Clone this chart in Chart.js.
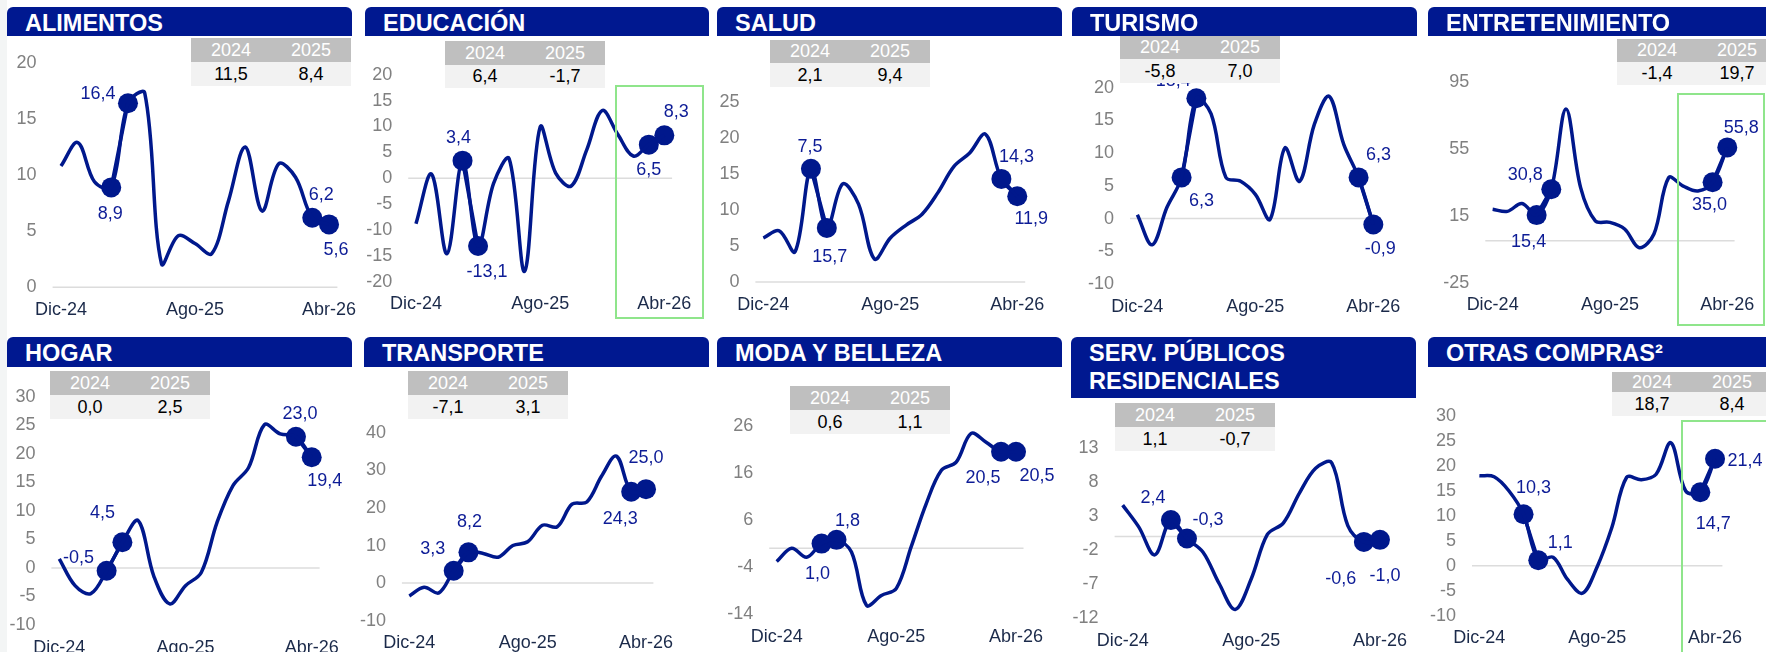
<!DOCTYPE html>
<html lang="es">
<head>
<meta charset="utf-8">
<title>Crecimiento del gasto por categoría</title>
<script src="https://cdn.jsdelivr.net/npm/chart.js@4.4.1/dist/chart.umd.min.js"></script>
<style>
  html, body { margin: 0; padding: 0; }
  body { width: 1766px; height: 652px; position: relative; overflow: hidden; background: #fff;
         font-family: "Liberation Sans", Arial, sans-serif; }
  .borde { position: absolute; left: 0; top: 0; width: 7px; height: 652px; background: #f3f5f5; }
  .titulo { position: absolute; background: #001890; color: #fff; font-weight: bold; font-size: 23.5px;
            border-radius: 6px 6px 0 0; box-sizing: border-box; padding: 2px 0 0 18px; line-height: 28px;
            white-space: nowrap; overflow: hidden; z-index: 3; }
  .tabla { position: absolute; width: 160px; font-size: 18px; z-index: 3; }
  .tabla .fila { display: flex; }
  .tabla .fila div { flex: 1; text-align: center; }
  .tabla .cab { background: #bfbfbf; color: #fff; }
  .tabla .val { background: #f2f2f2; color: #000; }
  .caja { position: absolute; border: 2px solid #8fe58b; box-sizing: border-box; z-index: 4; }
  canvas { position: absolute; z-index: 1; }
</style>
</head>
<body>
<div class="borde"></div>
<div id="tablero"></div>
<script>
// --- datos ---
const meses = ['Dic-24', 'Ene-25', 'Feb-25', 'Mar-25', 'Abr-25', 'May-25', 'Jun-25', 'Jul-25', 'Ago-25',
               'Sep-25', 'Oct-25', 'Nov-25', 'Dic-25', 'Ene-26', 'Feb-26', 'Mar-26', 'Abr-26'];

const titulos = ['ALIMENTOS', 'EDUCACIÓN', 'SALUD', 'TURISMO', 'ENTRETENIMIENTO',
                 'HOGAR', 'TRANSPORTE', 'MODA Y BELLEZA', 'SERV. PÚBLICOS<br>RESIDENCIALES', 'OTRAS COMPRAS²'];

const alimentos       = [10.8, 12.9, 9.4, 8.9, 16.4, 17.3, 2.1, 4.6, 3.9, 3.0, 7.7, 12.5, 6.8, 11.0, 9.8, 6.2, 5.6];
const educacion       = [-8.8, 0.8, -14.6, 3.4, -13.1, -1.0, 3.8, -18.0, 9.9, 1.0, -1.5, 5.5, 13.1, 8.5, 4.3, 6.5, 8.3];
const salud           = [6.1, 7.1, 4.2, 15.7, 7.5, 13.6, 10.8, 3.2, 6.1, 7.9, 9.4, 12.4, 16.0, 17.9, 20.5, 14.3, 11.9];
const turismo         = [0.6, -4.0, 1.7, 6.3, 18.4, 16.0, 6.3, 5.7, 3.7, -0.1, 10.8, 5.7, 14.4, 18.7, 11.3, 6.3, -0.9];
const entretenimiento = [18.9, 17.6, 22.3, 15.4, 30.8, 78.7, 31.8, 12.0, 11.0, 7.1, -4.1, 4.1, 37.7, 32.7, 29.8, 35.0, 55.8];
const hogar           = [1.6, -3.1, -4.5, -0.5, 4.5, 8.3, -1.5, -6.3, -3.1, -0.8, 8.0, 14.4, 17.6, 25.1, 23.5, 23.0, 19.4];
const transporte      = [-3.4, -1.1, -2.6, 3.3, 8.2, 7.9, 6.9, 10.0, 11.0, 15.4, 15.0, 21.0, 21.6, 28.5, 33.8, 24.3, 25.0];
const moda            = [-2.8, 0.0, -1.9, 1.0, 1.8, -0.8, -12.1, -10.0, -8.5, 0.4, 9.5, 16.5, 18.3, 24.4, 22.5, 20.5, 20.5];
const servicios       = [4.6, 1.4, -2.7, 2.4, -0.3, -2.3, -6.9, -10.7, -6.2, 0.3, 2.0, 6.4, 10.0, 10.8, 1.6, -0.8, -0.5];
const otras           = [18.0, 17.8, 15.0, 10.3, 1.1, 1.7, -2.8, -5.5, -0.2, 7.7, 17.7, 17.2, 18.3, 24.6, 15.0, 14.7, 21.4];

const series = [alimentos, educacion, salud, turismo, entretenimiento, hogar, transporte, moda, servicios, otras];

// meses resaltados y sus etiquetas (tal como aparecen)
const indicesMarca = [3, 4, 15, 16];
const etiquetasMarcas = [
  [8.9, 16.4, 6.2, 5.6], [3.4, -13.1, 6.5, 8.3], [7.5, 15.7, 14.3, 11.9], [6.3, 18.4, 6.3, -0.9],
  [15.4, 30.8, 35.0, 55.8], [-0.5, 4.5, 23.0, 19.4], [3.3, 8.2, 24.3, 25.0], [1.0, 1.8, 20.5, 20.5],
  [2.4, -0.3, -0.6, -1.0], [10.3, 1.1, 14.7, 21.4]
];

const anual2024 = [11.5, 6.4, 2.1, -5.8, -1.4, 0.0, -7.1, 0.6, 1.1, 18.7];
const anual2025 = [8.4, -1.7, 9.4, 7.0, 19.7, 2.5, 3.1, 1.1, -0.7, 8.4];

const ejeMin  = [0, -20, 0, -10, -25, -10, -10, -14, -12, -10];
const ejeMax  = [20, 20, 25, 20, 95, 30, 40, 26, 13, 30];
const ejePaso = [5, 5, 5, 5, 40, 5, 10, 10, 5, 5];

// --- disposición ---
// área del gráfico [izq, arriba, der, abajo] en px de página
const areas = [
  [52.6, 61.7, 337.4, 287.3], [408.2, 73.3, 672.1, 281.7], [755.4, 100, 1025.2, 282],
  [1130, 86.3, 1380.7, 284], [1485.3, 80, 1734.6, 282.7],
  [51.4, 395.7, 319.6, 625], [401.9, 431.7, 653.4, 620.7], [769.2, 424, 1023.5, 614.3],
  [1114.6, 446.7, 1388, 618.3], [1472, 414.3, 1722.4, 615.7]
];
const cabeceras = [
  [7, 7, 345, 29], [365, 7, 344, 29], [717, 7, 345, 29], [1072, 7, 345, 29], [1428, 7, 345, 29],
  [7, 337, 345, 30], [364, 337, 345, 30], [717, 337, 345, 30], [1071, 337, 345, 61], [1428, 337, 345, 30]
];
const posTablas = [
  [191, 38, 24, 24], [445, 41, 24, 23], [770, 40, 23, 24], [1120, 36, 23, 24], [1617, 39, 23, 23],
  [50, 371, 24, 24], [408, 371, 24, 24], [790, 386, 24, 24], [1115, 403, 24, 24], [1612, 372, 20, 24]
];
const desplazEtiquetas = [
  [[-1, 27], [-30, -9], [9, -23], [7, 26]],
  [[-4, -23], [9, 26], [0, 25], [12, -23]],
  [[-1, -22], [3, 29], [15, -22], [14, 23]],
  [[20, 24], [-23, -17], [20, -22], [7, 25]],
  [[-8, 27], [-26, -14], [-3, 23], [14, -19]],
  [[-28, -13], [-20, -29], [4, -23], [13, 24]],
  [[-21, -22], [1, -30], [-11, 27], [0, -31]],
  [[-4, 30], [11, -19], [-18, 26], [21, 24]],
  [[-18, -22], [21, -18], [-23, 37], [5, 36]],
  [[10, -26], [22, -17], [13, 32], [30, 2]]
];
const cajasVerdes = [[615, 85, 89, 234], [1677, 93, 88, 233], [1681, 420, 140, 260]];

const AZUL = '#00188c';
const AZUL_TEXTO = '#0d1c96';
const FUENTE = '"Liberation Sans", Arial, sans-serif';
const YW = 50, XH = 40;

const fmt = n => n.toFixed(1).replace('.', ',');
const tablero = document.getElementById('tablero');

function geometria(a) {
  const cl = Math.floor(a[0]) - 60, ct = Math.floor(a[1]) - 25;
  const cw = Math.ceil(a[2]) + 45 - cl, ch = Math.ceil(a[3]) + 45 - ct;
  return {
    cl, ct, cw, ch,
    pad: { left: a[0] - cl - YW, top: a[1] - ct, right: cw - (a[2] - cl), bottom: ch - (a[3] - ct) - XH }
  };
}

const lineaCero = {
  id: 'lineaCero',
  beforeDatasetsDraw(chart) {
    const { ctx, chartArea } = chart;
    const y = chart.scales.y.getPixelForValue(0);
    ctx.save();
    ctx.strokeStyle = '#dcdcdc';
    ctx.lineWidth = 1.5;
    ctx.beginPath();
    ctx.moveTo(chartArea.left, y);
    ctx.lineTo(chartArea.right, y);
    ctx.stroke();
    ctx.restore();
  }
};

function crearEtiquetas(i) {
  return {
    id: 'etiquetas' + i,
    afterDatasetsDraw(chart) {
      const meta = chart.getDatasetMeta(1);
      const ctx = chart.ctx;
      ctx.save();
      ctx.font = '18px ' + FUENTE;
      ctx.fillStyle = AZUL_TEXTO;
      ctx.textAlign = 'center';
      ctx.textBaseline = 'middle';
      indicesMarca.forEach((idx, k) => {
        const p = meta.data[idx];
        const d = desplazEtiquetas[i][k];
        ctx.fillText(fmt(etiquetasMarcas[i][k]), p.x + d[0], p.y + d[1]);
      });
      ctx.restore();
    }
  };
}

series.forEach((datos, i) => {
  // cabecera
  const c = cabeceras[i];
  const t = document.createElement('div');
  t.className = 'titulo';
  t.style.cssText = `left:${c[0]}px;top:${c[1]}px;width:${c[2]}px;height:${c[3]}px;`;
  t.innerHTML = titulos[i];
  tablero.appendChild(t);

  // tabla anual
  const pt = posTablas[i];
  const tb = document.createElement('div');
  tb.className = 'tabla';
  tb.style.cssText = `left:${pt[0]}px;top:${pt[1]}px;`;
  tb.innerHTML =
    `<div class="fila cab" style="height:${pt[2]}px;line-height:${pt[2]}px"><div>2024</div><div>2025</div></div>` +
    `<div class="fila val" style="height:${pt[3]}px;line-height:${pt[3]}px"><div>${fmt(anual2024[i])}</div><div>${fmt(anual2025[i])}</div></div>`;
  tablero.appendChild(tb);

  // gráfico
  const g = geometria(areas[i]);
  const cv = document.createElement('canvas');
  cv.width = g.cw;
  cv.height = g.ch;
  cv.style.left = g.cl + 'px';
  cv.style.top = g.ct + 'px';
  tablero.appendChild(cv);

  const marcas = datos.map((v, k) => indicesMarca.includes(k) ? v : null);

  new Chart(cv, {
    type: 'line',
    data: {
      labels: meses,
      datasets: [
        { data: datos, borderColor: AZUL, borderWidth: 3.5, tension: 0.35, pointRadius: 0, pointHoverRadius: 0, fill: false },
        { data: marcas, borderColor: AZUL, backgroundColor: AZUL, borderWidth: 3.5, tension: 0,
          pointRadius: 10, pointBorderWidth: 0, pointHoverRadius: 10, spanGaps: false, fill: false }
      ]
    },
    options: {
      responsive: false,
      animation: false,
      events: [],
      layout: { padding: g.pad },
      plugins: { legend: { display: false }, tooltip: { enabled: false } },
      scales: {
        x: {
          offset: true,
          grid: { display: false, drawTicks: false },
          border: { display: false },
          ticks: {
            autoSkip: false, maxRotation: 0, minRotation: 0, padding: 12,
            color: '#1b2a4a', font: { size: 18, family: FUENTE },
            callback: (v, idx) => (idx % 8 === 0 ? meses[idx] : '')
          },
          afterFit: s => { s.height = XH; }
        },
        y: {
          min: ejeMin[i], max: ejeMax[i],
          grid: { display: false, drawTicks: false },
          border: { display: false },
          ticks: { stepSize: ejePaso[i], padding: 16, color: '#808080', font: { size: 18, family: FUENTE }, callback: v => v },
          afterFit: s => { s.width = YW; }
        }
      }
    },
    plugins: [lineaCero, crearEtiquetas(i)]
  });
});

cajasVerdes.forEach(b => {
  const d = document.createElement('div');
  d.className = 'caja';
  d.style.cssText = `left:${b[0]}px;top:${b[1]}px;width:${b[2]}px;height:${b[3]}px;`;
  tablero.appendChild(d);
});
</script>
</body>
</html>
